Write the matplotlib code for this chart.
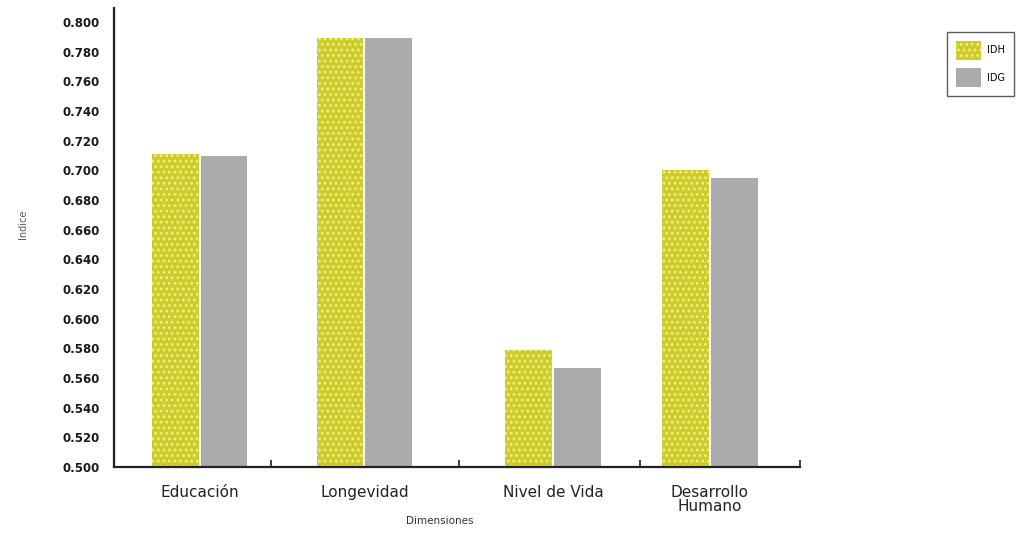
import matplotlib
matplotlib.use("Agg")
import matplotlib.pyplot as plt
from matplotlib.patches import Patch

# Dimension categories and index values
categories = ["Educación", "Longevidad", "Nivel de Vida", "Desarrollo\nHumano"]
idh = [0.711, 0.789, 0.579, 0.700]
idg = [0.710, 0.789, 0.567, 0.695]
series_names = ["IDH", "IDG"]
yticks = [0.500 + 0.020 * i for i in range(16)]

# Layout of the groups along the x axis (axis spans 0..4)
group_pos = [0.50, 1.46, 2.56, 3.475]
divider_pos = [0.915, 2.01, 3.07]
bar_w = 0.272
gap = 0.006

yellow = "#CCCC2E"
dot_col = "#F4F07A"
grey = "#ABABAB"

plt.rcParams["hatch.linewidth"] = 1.2

fig = plt.figure(figsize=(10.23, 5.36), dpi=100)
ax = fig.add_axes([0.1114, 0.1287, 0.6706, 0.8563])

x_left = [p - bar_w / 2 - gap for p in group_pos]
x_right = [p + bar_w / 2 + gap for p in group_pos]
base = 0.5
ax.bar(x_left, [v - base for v in idh], bottom=base, width=bar_w,
       color=yellow, edgecolor=dot_col, linewidth=0, hatch="...")
ax.bar(x_right, [v - base for v in idg], bottom=base, width=bar_w,
       color=grey, edgecolor=grey, linewidth=0)

ax.set_xlim(0, 4)
ax.set_ylim(0.5, 0.8095)

ax.set_yticks(yticks)
ax.set_yticklabels([f"{t:.3f}" for t in yticks], fontsize=8.5,
                   fontweight="bold", color="#1a1a1a")
ax.tick_params(axis="y", length=0, pad=10)

# Category labels centred under each group, dividers as ticks
ax.set_xticks(divider_pos + [4.0])
ax.set_xticklabels([])
ax.tick_params(axis="x", direction="in", length=5, width=1.2, color="#222222")
for p, lab in zip(group_pos, categories):
    ax.text(p, -0.04, lab, transform=ax.get_xaxis_transform(), ha="center",
            va="top", fontsize=11, color="#222222", linespacing=0.85)

for side in ("top", "right"):
    ax.spines[side].set_visible(False)
for side in ("left", "bottom"):
    ax.spines[side].set_linewidth(1.6)
    ax.spines[side].set_color("#222222")

fig.text(0.0225, 0.582, "Indice", rotation=90, ha="center", va="center",
         fontsize=7, color="#555555")
fig.text(0.43, 0.028, "Dimensiones", ha="center", va="center",
         fontsize=7.5, color="#333333")

handles = [Patch(facecolor=yellow, edgecolor=dot_col, hatch="...", linewidth=0),
           Patch(facecolor=grey, edgecolor=grey, linewidth=0)]
leg = fig.legend(handles, series_names, loc="upper left",
                 bbox_to_anchor=(0.926, 0.94), frameon=True, fancybox=False,
                 fontsize=7, handlelength=2.6, handleheight=2.6,
                 borderpad=0.9, labelspacing=0.9, handletextpad=0.6,
                 borderaxespad=0)
leg.get_frame().set_edgecolor("#333333")
leg.get_frame().set_linewidth(1.0)

fig.savefig("out.png", dpi=100)
